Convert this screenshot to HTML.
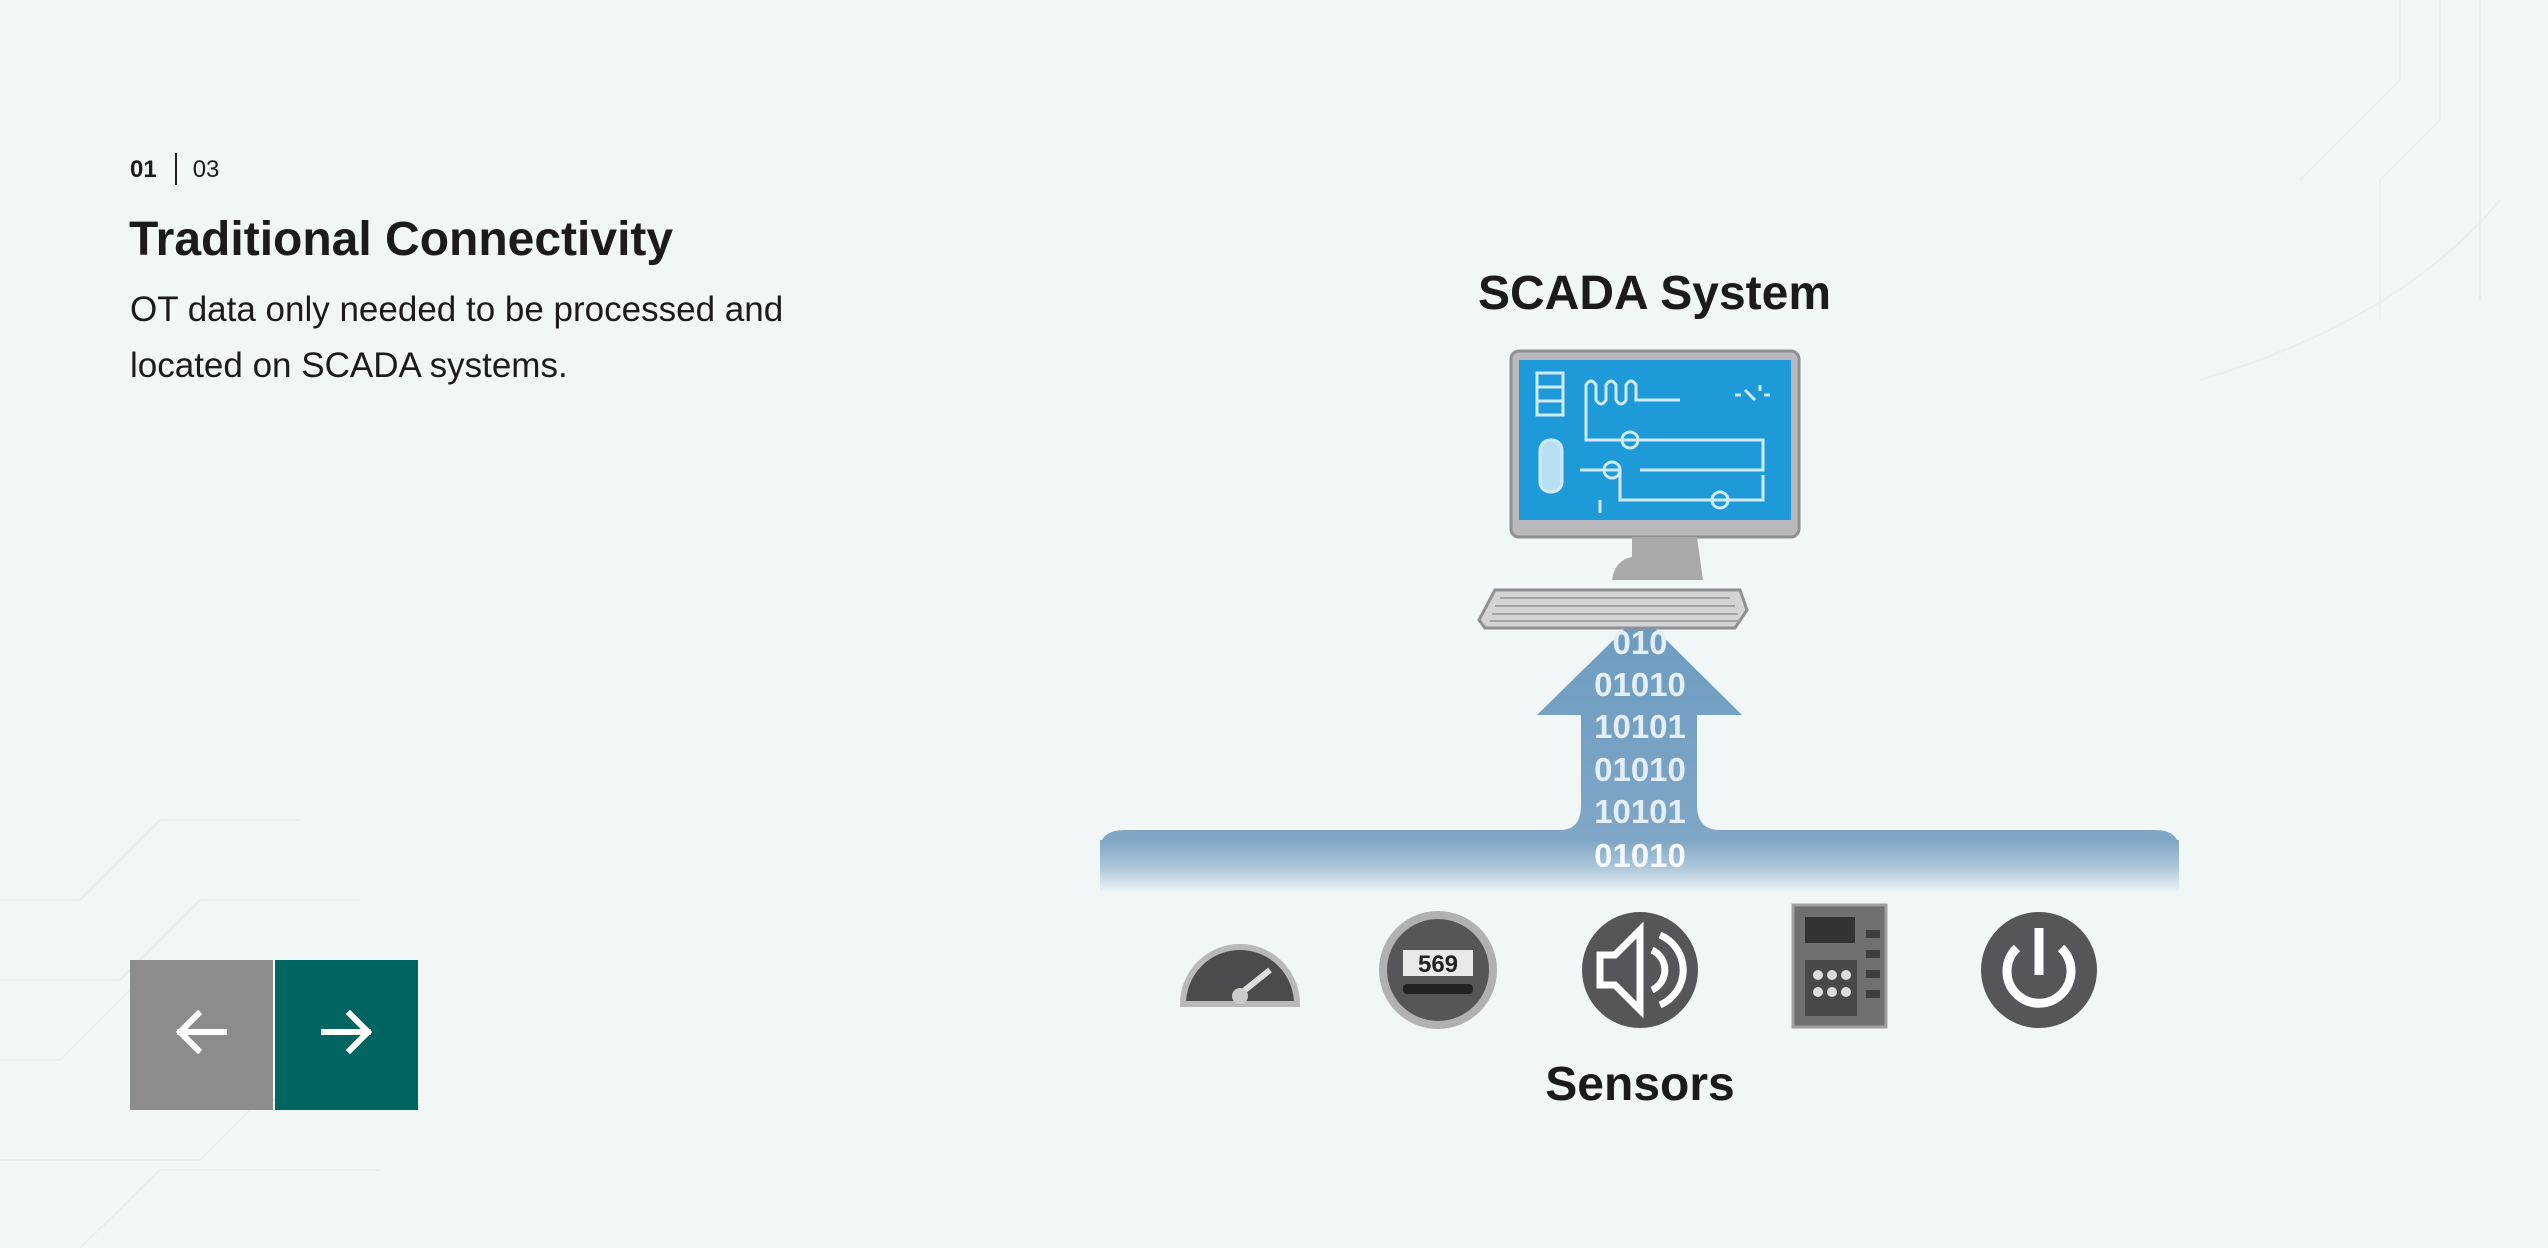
<!DOCTYPE html>
<html><head><meta charset="utf-8"><style>
*{margin:0;padding:0;box-sizing:border-box}
body{width:2548px;height:1248px;overflow:hidden;background:#f1f6f7;font-family:"Liberation Sans",Arial,sans-serif;color:#1a1a1f;position:relative}
.a{position:absolute;white-space:nowrap}
</style></head><body>
<svg class="a" style="left:0;top:0" width="2548" height="1248">
<g fill="none" stroke="#e8eff1" stroke-width="2">
<path d="M2480 0 V300 M2440 0 V120 L2380 180 V320 M2400 0 V80 L2300 180"/>
<path d="M0 900 H80 L160 820 H300 M0 980 H120 L200 900 H360 M0 1060 H60 L140 980 H260 M0 1160 H200 L260 1100 H420 M80 1248 L160 1170 H380"/>
<path d="M2200 380 Q2400 320 2500 200"/>
</g>
<defs>
<linearGradient id="bg" x1="0" y1="0" x2="0" y2="1"><stop offset="0" stop-color="#7fa6c4"/><stop offset="0.5" stop-color="#a9c4d8"/><stop offset="1" stop-color="#eef4f7"/></linearGradient>
<linearGradient id="ag" x1="0" y1="0" x2="0" y2="1"><stop offset="0" stop-color="#6d9bc0"/><stop offset="1" stop-color="#82a9c8"/></linearGradient>
</defs>
<path d="M1100 890 V850 Q1100 830 1125 830 H1560 Q1581 830 1581 805 V715 H1537 L1640 614 L1742 715 H1697 V805 Q1697 830 1720 830 H2155 Q2179 830 2179 850 V890 Z" fill="url(#ag)"/>
<rect x="1100" y="840" width="1079" height="52" fill="url(#bg)"/>
<rect x="1581" y="840" width="116" height="52" fill="url(#bg)" opacity="0.6"/>
<g font-family="Liberation Sans" font-weight="bold" font-size="33" fill="#e4eef6" text-anchor="middle">
<text x="1640" y="654">010</text><text x="1640" y="696">01010</text><text x="1640" y="738">10101</text>
<text x="1640" y="781">01010</text><text x="1640" y="823">10101</text><text x="1640" y="867" fill="#f6f9fb">01010</text>
</g>
<rect x="1511" y="351" width="288" height="186" rx="8" fill="#b9babd" stroke="#8e9095" stroke-width="3"/>
<rect x="1519" y="360" width="272" height="160" fill="#1e9ad9"/>
<g stroke="#cfeaf8" stroke-width="3" fill="none">
<rect x="1537" y="373" width="26" height="42"/><path d="M1537 387H1563M1537 401H1563"/>
<path d="M1586 420 V385 q5-8 10 0 v15 q5 8 10 0 v-15 q5-8 10 0 v15 q5 8 10 0 v-15 q5-8 10 0 v15 H1680"/>
<path d="M1586 420 V440 H1763 V470 H1640 M1580 470 H1620 V500 H1763 V475 M1600 513 V500"/>
<circle cx="1630" cy="440" r="8"/><circle cx="1612" cy="470" r="8"/><circle cx="1720" cy="500" r="8"/>
<rect x="1540" y="440" width="22" height="52" rx="10" fill="#b8e0f4"/>
<path d="M1745 390 l10 10 M1735 395 h6 M1760 385 v6 M1770 395 h-6"/>
</g>
<path d="M1632 537 H1697 L1703 580 H1612 Q1615 560 1632 557 Z" fill="#a8a9ac"/>
<path d="M1495 590 H1740 L1747 610 L1735 628 H1485 L1479 620 Z" fill="#d3d4d6" stroke="#8e9095" stroke-width="3"/>
<g stroke="#a0a2a6" stroke-width="2"><path d="M1500 598H1730M1495 606H1735M1492 614H1738M1490 621H1740"/></g>
<g>
<path d="M1183 1004 A57 57 0 0 1 1297 1004 Z" fill="#4a4b4e" stroke="#b8b9bb" stroke-width="6"/>
<path d="M1240 994 L1270 970" stroke="#ddd" stroke-width="6"/><circle cx="1240" cy="996" r="8" fill="#ccc"/>
<circle cx="1438" cy="970" r="55" fill="#555659" stroke="#b0b1b4" stroke-width="8"/>
<rect x="1403" y="950" width="70" height="26" fill="#e9e9ea"/>
<text x="1438" y="972" font-size="24" font-weight="bold" text-anchor="middle" fill="#222" font-family="Liberation Sans">569</text>
<rect x="1403" y="984" width="70" height="10" rx="4" fill="#222"/>
<circle cx="1640" cy="970" r="58" fill="#555659"/>
<path d="M1600 955 H1615 L1640 930 V1010 L1615 985 H1600 Z" fill="none" stroke="#fff" stroke-width="7"/>
<path d="M1652 950 a22 22 0 0 1 0 40 M1660 935 a38 38 0 0 1 0 70" fill="none" stroke="#fff" stroke-width="7"/>
<rect x="1793" y="905" width="93" height="122" fill="#6f7073" stroke="#9fa0a3" stroke-width="3"/>
<rect x="1805" y="917" width="50" height="26" fill="#333"/>
<rect x="1805" y="960" width="52" height="56" fill="#48494c"/>
<g fill="#ddd"><circle cx="1818" cy="975" r="5"/><circle cx="1832" cy="975" r="5"/><circle cx="1846" cy="975" r="5"/><circle cx="1818" cy="992" r="5"/><circle cx="1832" cy="992" r="5"/><circle cx="1846" cy="992" r="5"/></g>
<g fill="#3d3e41"><rect x="1866" y="930" width="14" height="8"/><rect x="1866" y="950" width="14" height="8"/><rect x="1866" y="970" width="14" height="8"/><rect x="1866" y="990" width="14" height="8"/></g>
<circle cx="2039" cy="970" r="58" fill="#555659"/>
<path d="M2017 948 A32 32 0 1 0 2061 948" fill="none" stroke="#fff" stroke-width="9"/>
<path d="M2039 928 V975" stroke="#fff" stroke-width="9"/>
</g>
<rect x="130" y="960" width="143" height="150" fill="#8c8c8c"/>
<rect x="275" y="960" width="143" height="150" fill="#006460"/>
<g stroke="#fff" stroke-width="6" fill="none" stroke-linecap="square">
<path d="M180 1032 H224 M198 1014 L180 1032 L198 1050"/>
<path d="M324 1032 H368 M350 1014 L368 1032 L350 1050"/>
</g>
</svg>
<div class="a" style="left:130px;top:153px;font-size:24px"><b>01</b><span style="display:inline-block;width:2px;height:32px;background:#222;vertical-align:-8px;margin:0 16px 0 18px"></span>03</div>
<div class="a" style="left:129px;top:212px;font-size:48px;font-weight:bold">Traditional Connectivity</div>
<div class="a" style="left:130px;top:282px;font-size:35px;line-height:56px">OT data only needed to be processed and<br>located on SCADA systems.</div>
<div class="a" style="left:1478px;top:266px;font-size:48px;font-weight:bold;width:324px;text-align:center">SCADA System</div>
<div class="a" style="left:1500px;top:1057px;font-size:48px;font-weight:bold;width:280px;text-align:center">Sensors</div>
</body></html>
